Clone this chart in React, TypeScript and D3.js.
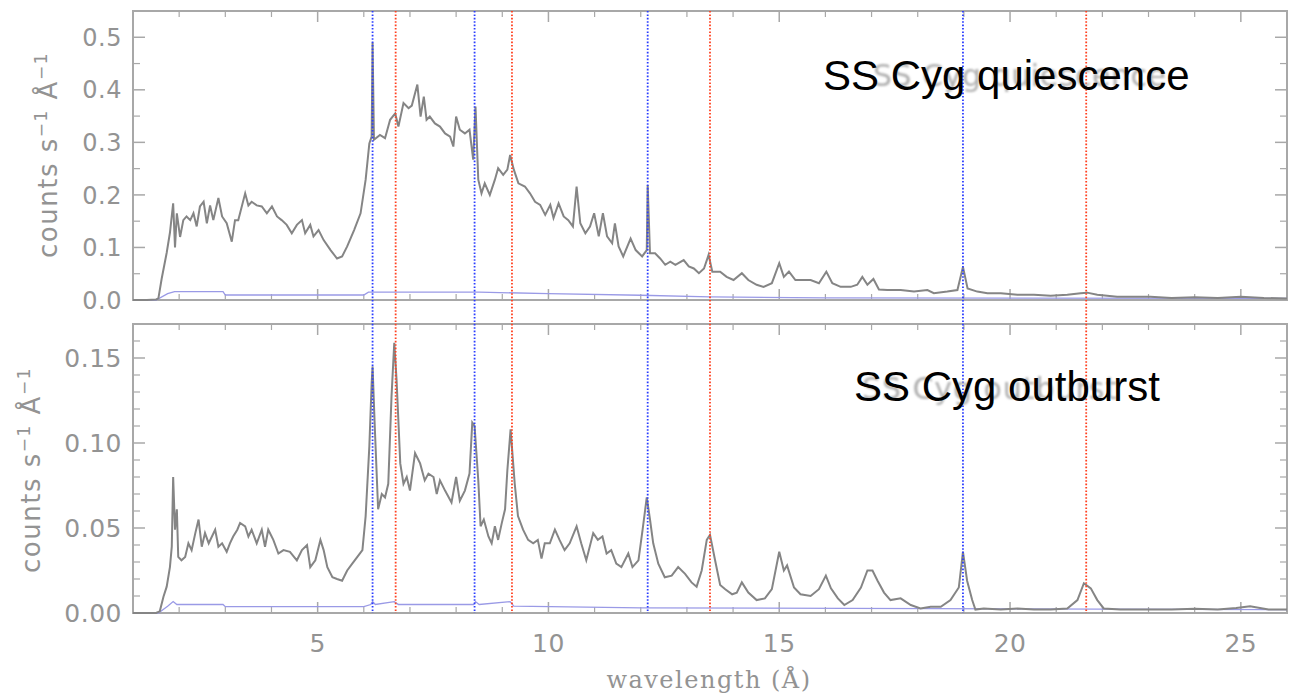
import React from "react";
import * as d3 from "d3";

// ---- data ----
const quiescenceWave = [1.0, 1.3, 1.5, 1.55, 1.62, 1.73, 1.8, 1.87, 1.91, 1.95, 2.02, 2.09, 2.16, 2.24, 2.31, 2.38, 2.45, 2.53, 2.6, 2.67, 2.74, 2.85, 2.93, 3.03, 3.14, 3.21, 3.28, 3.43, 3.5, 3.57, 3.68, 3.79, 3.9, 4.01, 4.12, 4.22, 4.33, 4.44, 4.55, 4.66, 4.73, 4.84, 4.91, 5.02, 5.13, 5.28, 5.42, 5.53, 5.64, 5.79, 5.93, 6.04, 6.12, 6.17, 6.19, 6.22, 6.35, 6.46, 6.57, 6.68, 6.75, 6.86, 6.97, 7.04, 7.16, 7.23, 7.3, 7.36, 7.43, 7.54, 7.65, 7.76, 7.87, 7.94, 8.0, 8.08, 8.19, 8.29, 8.37, 8.42, 8.48, 8.55, 8.62, 8.73, 8.84, 8.91, 9.02, 9.11, 9.17, 9.25, 9.35, 9.49, 9.6, 9.71, 9.82, 9.93, 10.04, 10.11, 10.22, 10.33, 10.43, 10.53, 10.61, 10.69, 10.8, 10.9, 10.99, 11.09, 11.18, 11.27, 11.38, 11.44, 11.52, 11.62, 11.78, 11.89, 12.03, 12.13, 12.15, 12.2, 12.31, 12.42, 12.53, 12.64, 12.75, 12.93, 13.04, 13.15, 13.26, 13.37, 13.47, 13.55, 13.61, 13.72, 13.86, 14.01, 14.19, 14.33, 14.51, 14.66, 14.84, 15.0, 15.1, 15.21, 15.35, 15.53, 15.68, 15.86, 16.02, 16.15, 16.33, 16.55, 16.69, 16.8, 16.91, 17.04, 17.16, 17.34, 17.63, 17.92, 18.21, 18.35, 18.64, 18.86, 18.98, 19.08, 19.29, 19.51, 19.8, 20.16, 20.52, 20.88, 21.24, 21.53, 21.67, 21.89, 22.32, 22.68, 23.04, 23.5, 24.0, 24.5, 25.0, 25.5, 26.0];
const quiescenceFlux = [0.0, 0.0, 0.001, 0.003, 0.04, 0.09, 0.128, 0.184, 0.1, 0.165, 0.12, 0.152, 0.159, 0.152, 0.165, 0.14, 0.178, 0.187, 0.146, 0.18, 0.152, 0.194, 0.159, 0.146, 0.111, 0.152, 0.152, 0.203, 0.18, 0.187, 0.18, 0.178, 0.165, 0.178, 0.159, 0.152, 0.143, 0.127, 0.143, 0.152, 0.127, 0.143, 0.121, 0.133, 0.114, 0.095, 0.079, 0.083, 0.102, 0.133, 0.165, 0.229, 0.298, 0.311, 0.49, 0.305, 0.314, 0.308, 0.343, 0.355, 0.33, 0.375, 0.365, 0.37, 0.41, 0.349, 0.387, 0.343, 0.349, 0.336, 0.33, 0.317, 0.311, 0.292, 0.349, 0.324, 0.317, 0.324, 0.267, 0.368, 0.229, 0.203, 0.222, 0.2, 0.229, 0.251, 0.238, 0.248, 0.276, 0.248, 0.222, 0.216, 0.203, 0.187, 0.181, 0.162, 0.181, 0.156, 0.184, 0.159, 0.152, 0.14, 0.216, 0.146, 0.127, 0.14, 0.165, 0.121, 0.165, 0.121, 0.108, 0.146, 0.102, 0.083, 0.117, 0.095, 0.083, 0.095, 0.219, 0.089, 0.089, 0.079, 0.067, 0.073, 0.067, 0.076, 0.064, 0.06, 0.051, 0.06, 0.086, 0.054, 0.054, 0.054, 0.044, 0.038, 0.051, 0.038, 0.029, 0.025, 0.032, 0.07, 0.044, 0.054, 0.038, 0.038, 0.038, 0.032, 0.054, 0.032, 0.025, 0.025, 0.029, 0.044, 0.029, 0.04, 0.02, 0.019, 0.019, 0.016, 0.019, 0.013, 0.016, 0.019, 0.063, 0.022, 0.016, 0.013, 0.013, 0.01, 0.01, 0.008, 0.01, 0.013, 0.014, 0.01, 0.006, 0.006, 0.006, 0.004, 0.005, 0.004, 0.006, 0.004, 0.003];

const outburstWave = [1.0, 1.5, 1.58, 1.66, 1.73, 1.8, 1.84, 1.87, 1.91, 1.95, 1.98, 2.05, 2.13, 2.2, 2.27, 2.35, 2.42, 2.49, 2.56, 2.64, 2.71, 2.78, 2.85, 2.93, 3.03, 3.1, 3.17, 3.26, 3.32, 3.43, 3.5, 3.57, 3.68, 3.79, 3.86, 3.93, 4.04, 4.15, 4.26, 4.4, 4.55, 4.66, 4.77, 4.84, 4.95, 5.06, 5.13, 5.21, 5.32, 5.42, 5.53, 5.64, 5.75, 5.86, 5.97, 6.04, 6.12, 6.17, 6.19, 6.24, 6.31, 6.39, 6.46, 6.53, 6.6, 6.66, 6.71, 6.79, 6.86, 6.93, 7.0, 7.11, 7.22, 7.32, 7.4, 7.51, 7.58, 7.65, 7.76, 7.9, 8.0, 8.08, 8.19, 8.29, 8.35, 8.4, 8.48, 8.53, 8.6, 8.7, 8.77, 8.84, 8.91, 8.99, 9.06, 9.11, 9.18, 9.27, 9.34, 9.45, 9.56, 9.67, 9.77, 9.85, 9.92, 10.03, 10.14, 10.24, 10.35, 10.46, 10.61, 10.71, 10.82, 10.97, 11.07, 11.17, 11.26, 11.36, 11.47, 11.58, 11.73, 11.82, 11.95, 12.04, 12.13, 12.2, 12.27, 12.38, 12.52, 12.67, 12.81, 12.96, 13.1, 13.21, 13.32, 13.43, 13.5, 13.61, 13.72, 13.83, 13.98, 14.08, 14.19, 14.33, 14.51, 14.69, 14.84, 15.0, 15.1, 15.17, 15.32, 15.46, 15.68, 15.86, 16.01, 16.12, 16.27, 16.41, 16.59, 16.77, 16.91, 17.02, 17.13, 17.27, 17.41, 17.63, 17.85, 18.06, 18.28, 18.5, 18.71, 18.89, 18.98, 19.07, 19.18, 19.25, 19.43, 19.8, 20.16, 20.52, 20.88, 21.24, 21.46, 21.6, 21.75, 21.89, 22.03, 22.39, 22.97, 23.5, 24.0, 24.5, 24.9, 25.2, 25.6, 26.0];
const outburstFlux = [0.0, 0.0, 0.001, 0.0096, 0.0155, 0.027, 0.039, 0.08, 0.049, 0.061, 0.033, 0.031, 0.033, 0.041, 0.037, 0.047, 0.055, 0.039, 0.047, 0.041, 0.045, 0.049, 0.039, 0.041, 0.036, 0.041, 0.045, 0.049, 0.053, 0.051, 0.045, 0.049, 0.041, 0.049, 0.039, 0.049, 0.043, 0.035, 0.037, 0.036, 0.031, 0.037, 0.04, 0.027, 0.031, 0.043, 0.037, 0.027, 0.021, 0.02, 0.019, 0.025, 0.029, 0.033, 0.037, 0.057, 0.098, 0.135, 0.145, 0.108, 0.061, 0.07, 0.068, 0.076, 0.127, 0.159, 0.137, 0.088, 0.076, 0.08, 0.072, 0.094, 0.088, 0.078, 0.082, 0.08, 0.07, 0.078, 0.072, 0.065, 0.08, 0.066, 0.072, 0.082, 0.112, 0.11, 0.078, 0.051, 0.055, 0.045, 0.041, 0.051, 0.043, 0.053, 0.061, 0.084, 0.108, 0.076, 0.057, 0.049, 0.043, 0.041, 0.043, 0.032, 0.041, 0.041, 0.049, 0.043, 0.037, 0.041, 0.051, 0.041, 0.031, 0.047, 0.043, 0.045, 0.035, 0.037, 0.029, 0.027, 0.035, 0.027, 0.031, 0.049, 0.068, 0.055, 0.041, 0.029, 0.021, 0.022, 0.027, 0.023, 0.018, 0.0155, 0.025, 0.043, 0.046, 0.031, 0.0165, 0.014, 0.011, 0.012, 0.018, 0.012, 0.0076, 0.0086, 0.014, 0.036, 0.025, 0.028, 0.015, 0.011, 0.01, 0.014, 0.022, 0.0145, 0.0086, 0.0047, 0.0076, 0.015, 0.025, 0.025, 0.019, 0.012, 0.0076, 0.0086, 0.0047, 0.0027, 0.0037, 0.0037, 0.0076, 0.015, 0.036, 0.019, 0.0076, 0.002, 0.0027, 0.002, 0.0027, 0.002, 0.002, 0.0027, 0.0076, 0.0175, 0.0145, 0.0076, 0.0027, 0.002, 0.002, 0.002, 0.0025, 0.002, 0.003, 0.004, 0.002, 0.002];

const backgroundQWave = [1.0, 1.5, 1.75, 1.9, 2.95, 3.0, 6.0, 6.1, 8.5, 10.0, 12.0, 13.5, 16.0, 26.0];
const backgroundQFlux = [0.0, 0.0, 0.012, 0.016, 0.016, 0.0095, 0.0095, 0.015, 0.015, 0.012, 0.009, 0.006, 0.004, 0.003];
const backgroundOWave = [1.0, 1.55, 1.75, 1.87, 1.95, 2.95, 3.0, 6.0, 6.15, 6.19, 6.25, 6.66, 6.75, 8.38, 8.42, 8.5, 9.17, 9.25, 12.0, 26.0];
const backgroundOFlux = [0.0, 0.0, 0.004, 0.0067, 0.005, 0.005, 0.0037, 0.0037, 0.005, 0.0067, 0.005, 0.0067, 0.005, 0.005, 0.0067, 0.005, 0.0067, 0.004, 0.003, 0.002];

const blueLines = [6.19, 8.4, 12.15, 18.98];
const redLines = [6.69, 9.21, 13.5, 21.65];

const xMajorTicks = [5, 10, 15, 20, 25];
const xMinorTicks = d3.range(2, 26);
const topMajorTicks = [0, 0.1, 0.2, 0.3, 0.4, 0.5];
const topTickLabels = ["0.0", "0.1", "0.2", "0.3", "0.4", "0.5"];
const topMinorTicks = [0.05, 0.15, 0.25, 0.35, 0.45];
const botMajorTicks = [0, 0.05, 0.1, 0.15];
const botTickLabels = ["0.00", "0.05", "0.10", "0.15"];
const botMinorTicks = [0.01, 0.02, 0.03, 0.04, 0.06, 0.07, 0.08, 0.09, 0.11, 0.12, 0.13, 0.14, 0.16];

const LEFT = 133;
const RIGHT = 1287;
const TOP1 = 11;
const BOT1 = 300;
const TOP2 = 324;
const BOT2 = 613;

const xScale = d3.scaleLinear().domain([1, 26]).range([LEFT, RIGHT]);
const yTop = d3.scaleLinear().domain([0, 0.55]).range([BOT1, TOP1]);
const yBot = d3.scaleLinear().domain([0, 0.17]).range([BOT2, TOP2]);

const FRAME = "#a8a8a8";
const TXT = "#939393";

function makePath(xs: number[], ys: number[], y: d3.ScaleLinear<number, number>) {
  const pts = xs.map((v, i) => [v, ys[i]] as [number, number]);
  return d3.line<[number, number]>().x((d) => xScale(d[0])).y((d) => y(d[1]))(pts) || "";
}

function Panel(props: {
  y: d3.ScaleLinear<number, number>;
  top: number;
  bottom: number;
  major: number[];
  labels: string[];
  minor: number[];
  labelSize: number;
}) {
  const { y, top, bottom, major, labels, minor, labelSize } = props;
  const xMinor = xMinorTicks.filter((t) => !xMajorTicks.includes(t));
  return (
    <g>
      <rect x={LEFT} y={top} width={RIGHT - LEFT} height={bottom - top} fill="none" stroke={FRAME} strokeWidth={2} />
      {xMajorTicks.map((t) => (
        <g key={"xm" + t}>
          <line x1={xScale(t)} x2={xScale(t)} y1={bottom} y2={bottom - 11} stroke={FRAME} strokeWidth={1.5} />
          <line x1={xScale(t)} x2={xScale(t)} y1={top} y2={top + 11} stroke={FRAME} strokeWidth={1.5} />
        </g>
      ))}
      {xMinor.map((t) => (
        <g key={"xn" + t}>
          <line x1={xScale(t)} x2={xScale(t)} y1={bottom} y2={bottom - 6} stroke={FRAME} strokeWidth={1.2} />
          <line x1={xScale(t)} x2={xScale(t)} y1={top} y2={top + 6} stroke={FRAME} strokeWidth={1.2} />
        </g>
      ))}
      {major.map((t, i) => (
        <g key={"ym" + t}>
          <line x1={LEFT} x2={LEFT + 12} y1={y(t)} y2={y(t)} stroke={FRAME} strokeWidth={1.5} />
          <line x1={RIGHT} x2={RIGHT - 12} y1={y(t)} y2={y(t)} stroke={FRAME} strokeWidth={1.5} />
          <text x={122} y={y(t)} dy="0.36em" textAnchor="end" fontFamily="DejaVu Sans" fontSize={labelSize} fill={TXT} letterSpacing={0.5}>
            {labels[i]}
          </text>
        </g>
      ))}
      {minor.map((t) => (
        <g key={"yn" + t}>
          <line x1={LEFT} x2={LEFT + 7} y1={y(t)} y2={y(t)} stroke={FRAME} strokeWidth={1.2} />
          <line x1={RIGHT} x2={RIGHT - 7} y1={y(t)} y2={y(t)} stroke={FRAME} strokeWidth={1.2} />
        </g>
      ))}
    </g>
  );
}

function YTitle(props: { x: number; y: number }) {
  return (
    <text
      transform={`translate(${props.x},${props.y}) rotate(-90)`}
      textAnchor="middle"
      fontFamily="DejaVu Sans"
      fontSize={26}
      fill={TXT}
      letterSpacing={1.5}
    >
      counts s
      <tspan fontSize={17} dy={-10}>−1</tspan>
      <tspan dy={10}> Å</tspan>
      <tspan fontSize={17} dy={-10}>−1</tspan>
    </text>
  );
}

export default function App() {
  const qPath = makePath(quiescenceWave, quiescenceFlux, yTop);
  const oPath = makePath(outburstWave, outburstFlux, yBot);
  const bqPath = makePath(backgroundQWave, backgroundQFlux, yTop);
  const boPath = makePath(backgroundOWave, backgroundOFlux, yBot);
  return (
    <svg width={1289} height={695} style={{ position: "absolute", left: 0, top: 0, background: "#fff" }}>
      <defs>
        <filter id="soft" x="-5%" y="-5%" width="110%" height="110%">
          <feGaussianBlur stdDeviation={0.6} />
        </filter>
        <filter id="ghost">
          <feGaussianBlur stdDeviation={1.2} />
        </filter>
      </defs>
      <rect x={0} y={0} width={1289} height={695} fill="#fff" />
      <Panel y={yTop} top={TOP1} bottom={BOT1} major={topMajorTicks} labels={topTickLabels} minor={topMinorTicks} labelSize={24} />
      <Panel y={yBot} top={TOP2} bottom={BOT2} major={botMajorTicks} labels={botTickLabels} minor={botMinorTicks} labelSize={25} />

      <path d={bqPath} fill="none" stroke="#9a9ae6" strokeWidth={1.3} />
      <path d={boPath} fill="none" stroke="#9a9ae6" strokeWidth={1.3} />
      <path d={qPath} fill="none" stroke="#858585" strokeWidth={2} filter="url(#soft)" />
      <path d={oPath} fill="none" stroke="#858585" strokeWidth={2} filter="url(#soft)" />

      {blueLines.map((w) => (
        <line key={"b" + w} x1={xScale(w)} x2={xScale(w)} y1={TOP1} y2={BOT2} stroke="#2a3cff" strokeWidth={1.8} strokeDasharray="1.6 1.8" />
      ))}
      {redLines.map((w) => (
        <line key={"r" + w} x1={xScale(w)} x2={xScale(w)} y1={TOP1} y2={BOT2} stroke="#ff4020" strokeWidth={1.8} strokeDasharray="1.6 1.8" />
      ))}

      {xMajorTicks.map((t) => (
        <text key={"xl" + t} x={xScale(t)} y={652} textAnchor="middle" fontFamily="DejaVu Sans" fontSize={25} fill={TXT} letterSpacing={0.5}>
          {t}
        </text>
      ))}
      <text x={709} y={688} textAnchor="middle" fontFamily="DejaVu Serif" fontSize={24} fill={TXT} letterSpacing={1.5}>
        wavelength (Å)
      </text>
      <YTitle x={57} y={155} />
      <YTitle x={40} y={470} />

      <text x={873} y={86} fontFamily="DejaVu Sans" fontSize={30} fill="#b0b0b0" filter="url(#ghost)" textLength={293}>
        SS Cyg quiescence
      </text>
      <text x={862} y={399} fontFamily="DejaVu Sans" fontSize={30} fill="#b0b0b0" filter="url(#ghost)" textLength={255}>
        SS Cyg outburst
      </text>
      <text x={823} y={90} fontFamily="Liberation Sans" fontSize={42} fill="#000">
        SS Cyg quiescence
      </text>
      <text x={854} y={401} fontFamily="Liberation Sans" fontSize={42} fill="#000">
        SS Cyg outburst
      </text>
    </svg>
  );
}
